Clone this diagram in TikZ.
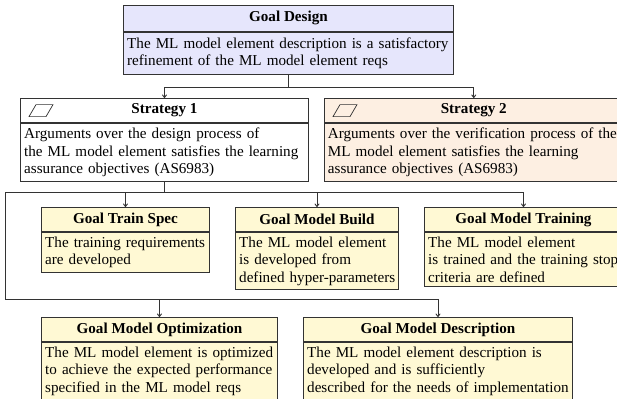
\documentclass[tikz,border=0pt]{standalone}
\usepackage{fontspec}
\setmainfont{Liberation Serif}
\usetikzlibrary{arrows.meta,calc}
\definecolor{lc}{HTML}{333333}
\definecolor{gdfill}{HTML}{E6E6FC}
\definecolor{s2fill}{HTML}{FDEFE2}
\definecolor{gfill}{HTML}{FFF9D4}
\newcommand\bl[1]{\mbox{#1}}
\tikzset{
  hdr/.style={draw=lc, line width=0.65pt, minimum height=17pt, inner sep=0pt, anchor=north west, font=\fontsize{10.6}{12}\selectfont\bfseries},
  bdy/.style={draw=lc, line width=0.65pt, inner xsep=2.6pt, inner ysep=3.2pt, align=left, anchor=north west, font=\fontsize{10.6}{12}\selectfont},
  conn/.style={draw=lc, line width=0.65pt},
  arr/.style={conn, -{To[length=2.5pt,width=3.5pt]}},
  icon/.style={draw=lc, line width=0.5pt}
}
\begin{document}
\begin{tikzpicture}[x=0.7pt,y=-0.7pt]
\useasboundingbox (0,0) rectangle (617,398);
\clip (0,0) rectangle (617,398);
% Goal Design
\node[hdr, fill=gdfill, minimum width=231pt, minimum height=18pt] (gd) at (123,5) {Goal Design};
\node[bdy, fill=gdfill, text width=225.8pt, inner ysep=4pt] (gdb) at (gd.south west) {\bl{The ML model element description is a satisfactory}\\\bl{refinement of the ML model element reqs}};
% Strategy 1
\node[hdr, fill=white, minimum width=201.6pt] (s1) at (20,98) {Strategy 1};
\node[bdy, fill=white, text width=196.4pt] (s1b) at (s1.south west) {\bl{Arguments over the design process of}\\\bl{the ML model element satisfies the learning}\\\bl{assurance objectives (AS6983)}};
\draw[icon] ($(s1.west)+(9,6)$) -- ($(s1.west)+(26,6)$) -- ($(s1.west)+(33,-6)$) -- ($(s1.west)+(16,-6)$) -- cycle;
% Strategy 2
\node[hdr, fill=s2fill, minimum width=209pt] (s2) at (324,98) {Strategy 2};
\node[bdy, fill=s2fill, text width=203.8pt, inner xsep=2.4pt] (s2b) at (s2.south west) {\bl{Arguments over the verification process of the}\\\bl{ML model element satisfies the learning}\\\bl{assurance objectives (AS6983)}};
\draw[icon] ($(s2.west)+(9,6)$) -- ($(s2.west)+(26,6)$) -- ($(s2.west)+(33,-6)$) -- ($(s2.west)+(16,-6)$) -- cycle;
% Row 2
\node[hdr, fill=gfill, minimum width=117.6pt] (ts) at (41,207) {Goal Train Spec};
\node[bdy, fill=gfill, text width=112.4pt] (tsb) at (ts.south west) {\bl{The training requirements}\\\bl{are developed}};
\node[hdr, fill=gfill, minimum width=114.1pt] (mb) at (235,207) {Goal Model Build};
\node[bdy, fill=gfill, text width=108.9pt] (mbb) at (mb.south west) {\bl{The ML model element}\\\bl{is developed from}\\\bl{defined hyper-parameters}};
\node[hdr, fill=gfill, minimum width=138.6pt] (mt) at (424,207) {Goal Model Training};
\node[bdy, fill=gfill, text width=133.4pt] (mtb) at (mt.south west) {\bl{The ML model element}\\\bl{is trained and the training stop}\\\bl{criteria are defined}};
% Row 3
\node[hdr, fill=gfill, minimum width=165.2pt] (mo) at (41,317) {Goal Model Optimization};
\node[bdy, fill=gfill, text width=160pt] (mob) at (mo.south west) {\bl{The ML model element is optimized}\\\bl{to achieve the expected performance}\\\bl{specified in the ML model reqs}};
\node[hdr, fill=gfill, minimum width=188.3pt] (md) at (303,317) {Goal Model Description};
\node[bdy, fill=gfill, text width=183.1pt] (mdb) at (md.south west) {\bl{The ML model element description is}\\\bl{developed and is sufficiently}\\\bl{described for the needs of implementation}};
% Connectors
\coordinate (L) at (5,0);
\coordinate (L2) at (5,299);
\coordinate (H1) at (0,87);
\draw[conn] (gdb.south) -- (gdb.south |- H1) coordinate (t1);
\draw[arr] (t1) -| (s1.north);
\draw[arr] (t1) -| (s2.north);
\draw[conn] (s1b.south) -- ++(0,11) coordinate (b1);
\draw[arr] (b1) -| (ts.north);
\draw[arr] (b1) -| (mb.north);
\draw[arr] (b1) -| (mt.north);
\draw[conn] (b1) -- (b1 -| L) -- (L2);
\draw[arr] (L2) -| (mo.north);
\draw[arr] (L2) -| (md.north);
\end{tikzpicture}
\end{document}
